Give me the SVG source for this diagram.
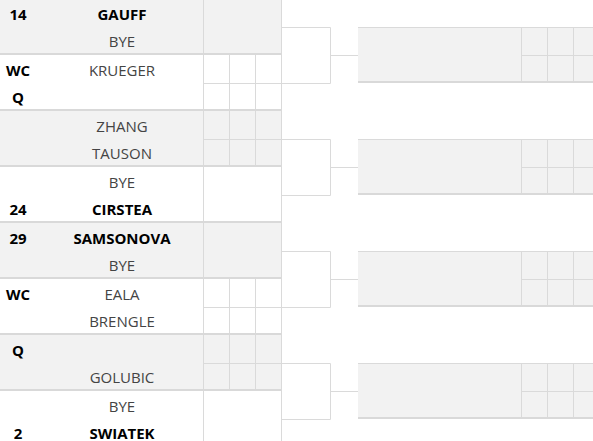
<svg xmlns="http://www.w3.org/2000/svg" width="593" height="441" viewBox="0 0 593 441">
<style>
.bg{fill:#f2f2f2}
.wh{fill:#ffffff}
.sep{fill:#d9d9d9}
.ln{stroke:#dadada;stroke-width:1;fill:none}
.t{font-family:"Open Sans","Liberation Sans",sans-serif;font-size:15px;text-anchor:middle;fill:#444}
.b{font-weight:bold;fill:#000}
</style>
<rect x="0" y="0" width="593" height="441" fill="#fff"/>
<g id="m1">
<rect class="bg" x="0" y="0" width="282" height="53"/>
<line class="ln" x1="203.5" y1="0" x2="203.5" y2="53"/>
<rect class="sep" x="0" y="53" width="282" height="2"/>
<text class="t b" x="18" y="20">14</text><text class="t b" x="122" y="20">GAUFF</text>
<text class="t" x="122" y="47">BYE</text>
</g>
<g id="m2">
<rect class="wh" x="0" y="55" width="282" height="54"/>
<line class="ln" x1="203.5" y1="55" x2="203.5" y2="109"/>
<line class="ln" x1="229.5" y1="55" x2="229.5" y2="109"/>
<line class="ln" x1="255.5" y1="55" x2="255.5" y2="109"/>
<line class="ln" x1="203" y1="83.5" x2="282" y2="83.5"/>
<rect class="sep" x="0" y="109" width="282" height="2"/>
<text class="t b" x="18" y="76">WC</text><text class="t" x="122" y="76">KRUEGER</text>
<text class="t b" x="18" y="103">Q</text>
</g>
<g id="m3">
<rect class="bg" x="0" y="111" width="282" height="54"/>
<line class="ln" x1="203.5" y1="111" x2="203.5" y2="165"/>
<line class="ln" x1="229.5" y1="111" x2="229.5" y2="165"/>
<line class="ln" x1="255.5" y1="111" x2="255.5" y2="165"/>
<line class="ln" x1="203" y1="139.5" x2="282" y2="139.5"/>
<rect class="sep" x="0" y="165" width="282" height="2"/>
<text class="t" x="122" y="132">ZHANG</text>
<text class="t" x="122" y="159">TAUSON</text>
</g>
<g id="m4">
<rect class="wh" x="0" y="167" width="282" height="54"/>
<line class="ln" x1="203.5" y1="167" x2="203.5" y2="221"/>
<rect class="sep" x="0" y="221" width="282" height="2"/>
<text class="t" x="122" y="188">BYE</text>
<text class="t b" x="18" y="215">24</text><text class="t b" x="122" y="215">CIRSTEA</text>
</g>
<g id="m5">
<rect class="bg" x="0" y="223" width="282" height="54"/>
<line class="ln" x1="203.5" y1="223" x2="203.5" y2="277"/>
<rect class="sep" x="0" y="277" width="282" height="2"/>
<text class="t b" x="18" y="244">29</text><text class="t b" x="122" y="244">SAMSONOVA</text>
<text class="t" x="122" y="271">BYE</text>
</g>
<g id="m6">
<rect class="wh" x="0" y="279" width="282" height="54"/>
<line class="ln" x1="203.5" y1="279" x2="203.5" y2="333"/>
<line class="ln" x1="229.5" y1="279" x2="229.5" y2="333"/>
<line class="ln" x1="255.5" y1="279" x2="255.5" y2="333"/>
<line class="ln" x1="203" y1="307.5" x2="282" y2="307.5"/>
<rect class="sep" x="0" y="333" width="282" height="2"/>
<text class="t b" x="18" y="300">WC</text><text class="t" x="122" y="300">EALA</text>
<text class="t" x="122" y="327">BRENGLE</text>
</g>
<g id="m7">
<rect class="bg" x="0" y="335" width="282" height="54"/>
<line class="ln" x1="203.5" y1="335" x2="203.5" y2="389"/>
<line class="ln" x1="229.5" y1="335" x2="229.5" y2="389"/>
<line class="ln" x1="255.5" y1="335" x2="255.5" y2="389"/>
<line class="ln" x1="203" y1="363.5" x2="282" y2="363.5"/>
<rect class="sep" x="0" y="389" width="282" height="2"/>
<text class="t b" x="18" y="356">Q</text>
<text class="t" x="122" y="383">GOLUBIC</text>
</g>
<g id="m8">
<rect class="wh" x="0" y="391" width="282" height="54"/>
<line class="ln" x1="203.5" y1="391" x2="203.5" y2="441"/>
<text class="t" x="122" y="412">BYE</text>
<text class="t b" x="18" y="439">2</text><text class="t b" x="122" y="439">SWIATEK</text>
</g>
<g id="r2m1">
<rect class="bg" x="358" y="28" width="235" height="53"/>
<line class="ln" x1="358" y1="27.5" x2="593" y2="27.5"/>
<line class="ln" x1="521.5" y1="28" x2="521.5" y2="81"/>
<line class="ln" x1="547.5" y1="28" x2="547.5" y2="81"/>
<line class="ln" x1="573.5" y1="28" x2="573.5" y2="81"/>
<line class="ln" x1="521" y1="55.5" x2="593" y2="55.5"/>
<rect class="sep" x="358" y="81" width="235" height="2"/>
</g>
<g id="r2m2">
<rect class="bg" x="358" y="140" width="235" height="53"/>
<line class="ln" x1="358" y1="139.5" x2="593" y2="139.5"/>
<line class="ln" x1="521.5" y1="140" x2="521.5" y2="193"/>
<line class="ln" x1="547.5" y1="140" x2="547.5" y2="193"/>
<line class="ln" x1="573.5" y1="140" x2="573.5" y2="193"/>
<line class="ln" x1="521" y1="167.5" x2="593" y2="167.5"/>
<rect class="sep" x="358" y="193" width="235" height="2"/>
</g>
<g id="r2m3">
<rect class="bg" x="358" y="252" width="235" height="53"/>
<line class="ln" x1="358" y1="251.5" x2="593" y2="251.5"/>
<line class="ln" x1="521.5" y1="252" x2="521.5" y2="305"/>
<line class="ln" x1="547.5" y1="252" x2="547.5" y2="305"/>
<line class="ln" x1="573.5" y1="252" x2="573.5" y2="305"/>
<line class="ln" x1="521" y1="279.5" x2="593" y2="279.5"/>
<rect class="sep" x="358" y="305" width="235" height="2"/>
</g>
<g id="r2m4">
<rect class="bg" x="358" y="364" width="235" height="53"/>
<line class="ln" x1="358" y1="363.5" x2="593" y2="363.5"/>
<line class="ln" x1="521.5" y1="364" x2="521.5" y2="417"/>
<line class="ln" x1="547.5" y1="364" x2="547.5" y2="417"/>
<line class="ln" x1="573.5" y1="364" x2="573.5" y2="417"/>
<line class="ln" x1="521" y1="391.5" x2="593" y2="391.5"/>
<rect class="sep" x="358" y="417" width="235" height="2"/>
</g>
<g id="connectors">
<line class="ln" x1="281.5" y1="0" x2="281.5" y2="441"/>
<path class="ln" d="M281.5,27.5H330.5V83.5H281.5M330.5,55.5H358"/>
<path class="ln" d="M281.5,139.5H330.5V195.5H281.5M330.5,167.5H358"/>
<path class="ln" d="M281.5,251.5H330.5V307.5H281.5M330.5,279.5H358"/>
<path class="ln" d="M281.5,363.5H330.5V419.5H281.5M330.5,391.5H358"/>
</g>
</svg>
